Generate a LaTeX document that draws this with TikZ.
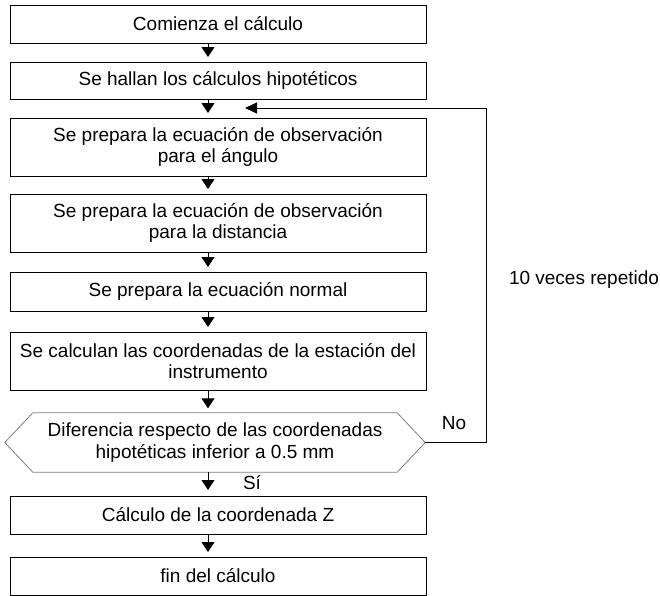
\documentclass[tikz,border=0pt]{standalone}
\usepackage{fontspec}
\setmainfont{Liberation Sans}
\usetikzlibrary{arrows.meta}
\begin{document}
\begin{tikzpicture}[x=1pt,y=-1pt,
  txt/.style={font=\fontsize{19}{21.7}\selectfont, align=center, inner sep=0pt},
  stepbox/.style={txt, draw=black, line width=1pt, minimum width=416pt},
  arr/.style={line width=1pt, -{Triangle[width=13pt,length=10pt]}, shorten >=4.5pt},
  lbl/.style={font=\fontsize{19}{21.7}\selectfont, inner sep=0pt}
]
\useasboundingbox (0,0) rectangle (660,595);
\fill[white] (0,0) rectangle (660,595);

\node[stepbox, minimum height=38pt] (b1) at (218,24) {Comienza el cálculo};
\node[stepbox, minimum height=37pt] (b2) at (218,80.5) {Se hallan los cálculos hipotéticos};
\node[stepbox, minimum height=58pt] (b3) at (218,147) {Se prepara la ecuación de observación\\para el ángulo};
\node[stepbox, minimum height=58pt] (b4) at (218,223) {Se prepara la ecuación de observación\\para la distancia};
\node[stepbox, minimum height=39pt] (b5) at (218,291.5) {Se prepara la ecuación normal};
\node[stepbox, minimum height=58pt] (b6) at (218,361) {Se calculan las coordenadas de la estación del\\instrumento};
\node[txt, minimum width=420pt, minimum height=59pt] (hex) at (215,442.5) {Diferencia respecto de las coordenadas\\hipotéticas inferior a 0.5 mm};
\draw[gray, line width=0.8pt] (hex.west) -- ([xshift=28pt]hex.north west) -- ([xshift=-28pt]hex.north east) -- (hex.east) -- ([xshift=-28pt]hex.south east) -- ([xshift=28pt]hex.south west) -- cycle;
\node[stepbox, minimum height=38pt] (b7) at (218,515) {Cálculo de la coordenada Z};
\node[stepbox, minimum height=38pt] (b8) at (218,576) {fin del cálculo};

\foreach \a/\b in {b1/b2,b2/b3,b3/b4,b4/b5,b5/b6,b6/hex,b7/b8}
  \draw[arr] ([xshift=-10pt]\a.south -| b1.south) -- ([xshift=-10pt]\b.north -| b1.north);
\draw[arr, shorten >=5.5pt] ([xshift=-10pt]hex.south -| b1.south) -- ([xshift=-10pt]b7.north -| b1.north);

\coordinate (lr) at (486,442.5);
\coordinate (ur) at (486,108);
\coordinate (tipc) at (245,108);
\draw[line width=1pt, -{Triangle[width=11pt,length=12pt]}] (hex.east) -- (lr) -- (ur) -- (tipc);

\node[lbl] (no) at (454,423) {No};
\node[lbl] (si) at (252,483) {Sí};
\node[lbl] (rep) at (584,280) {10 veces repetido};
\end{tikzpicture}
\end{document}
